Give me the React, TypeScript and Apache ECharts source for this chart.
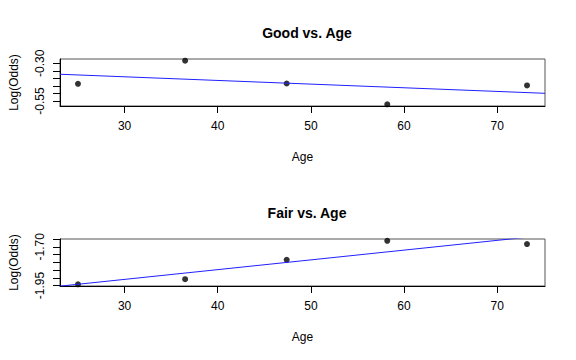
import React, { useEffect, useRef } from "react";
import * as echarts from "echarts";

const ages = [25, 36.5, 47.4, 58.2, 73.2];
const goodLogOdds = [-0.436, -0.283, -0.434, -0.572, -0.447];
const fairLogOdds = [-1.942, -1.909, -1.784, -1.661, -1.682];
const fitAges = [23.07, 75.13];
const goodFit = [-0.373, -0.499];
const fairFit = [-1.954, -1.626];
const xTicks = [30, 40, 50, 60, 70];
const goodYTicks = [-0.55, -0.5, -0.45, -0.4, -0.35, -0.3];
const goodYLabels = [-0.55, -0.3];
const fairYTicks = [-1.95, -1.9, -1.85, -1.8, -1.75, -1.7, -1.65];
const fairYLabels = [-1.95, -1.7];
const titles = ["Good vs. Age", "Fair vs. Age"];

const FONT = "Liberation Sans, Arial, Helvetica, sans-serif";

export default function App() {
  const ref = useRef<HTMLDivElement>(null);
  useEffect(() => {
    if (!ref.current) return;
    const chart = echarts.init(ref.current, null, { renderer: "svg" });
    const grids = [
      { left: 59, right: 31, top: 59, height: 47 },
      { left: 59, right: 31, top: 239, height: 47 },
    ];
    const yRanges = [
      [-0.583, -0.272],
      [-1.953, -1.6495],
    ];
    const yTickSets = [goodYTicks, fairYTicks];
    const yLabelSets = [goodYLabels, fairYLabels];
    const xAxis = grids.map((_, i) => ({
      type: "value",
      gridIndex: i,
      min: fitAges[0],
      max: fitAges[1],
      name: "Age",
      nameLocation: "middle",
      nameGap: 45,
      nameTextStyle: { fontFamily: FONT, fontSize: 12, color: "#000" },
      splitLine: { show: false },
      axisLine: { show: true, lineStyle: { color: "#000", width: 1 } },
      axisTick: { show: true, length: 7, customValues: xTicks, lineStyle: { color: "#000" } },
      axisLabel: {
        customValues: xTicks,
        margin: 14,
        fontFamily: FONT,
        fontSize: 12,
        color: "#000",
      },
    }));
    const yAxis = grids.map((_, i) => ({
      type: "value",
      gridIndex: i,
      min: yRanges[i][0],
      max: yRanges[i][1],
      name: "Log(Odds)",
      nameLocation: "middle",
      nameRotate: 90,
      nameGap: 40,
      nameTextStyle: { fontFamily: FONT, fontSize: 12, color: "#000" },
      splitLine: { show: false },
      axisLine: { show: true, lineStyle: { color: "#000", width: 1 } },
      axisTick: { show: true, length: 7, customValues: yTickSets[i], lineStyle: { color: "#000" } },
      axisLabel: {
        customValues: yLabelSets[i],
        rotate: 90,
        margin: 14,
        fontFamily: FONT,
        fontSize: 12,
        color: "#000",
        formatter: (v: number) => v.toFixed(2),
      },
    }));
    const series: any[] = [];
    const ySets = [goodLogOdds, fairLogOdds];
    const fitSets = [goodFit, fairFit];
    for (let i = 0; i < 2; i++) {
      series.push({
        type: "line",
        xAxisIndex: i,
        yAxisIndex: i,
        data: fitAges.map((a, j) => [a, fitSets[i][j]]),
        showSymbol: false,
        symbol: "none",
        clip: true,
        lineStyle: { color: "#2020ff", width: 1 },
        silent: true,
      });
      series.push({
        type: "scatter",
        xAxisIndex: i,
        yAxisIndex: i,
        data: ages.map((a, j) => [a, ySets[i][j]]),
        symbol: "circle",
        symbolSize: 6,
        itemStyle: { color: "#000" },
        clip: false,
      });
    }
    chart.setOption({
      animation: false,
      backgroundColor: "#fff",
      title: titles.map((t, i) => ({
        text: t,
        left: 302,
        textAlign: "center",
        top: i === 0 ? 21 : 201,
        textStyle: { fontFamily: FONT, fontSize: 14, fontWeight: "bold", color: "#000" },
      })),
      grid: grids.map((g) => ({ ...g, show: true, borderColor: "#555", borderWidth: 1, backgroundColor: "transparent" })),
      xAxis,
      yAxis,
      series,
    });
    return () => chart.dispose();
  }, []);
  return <div ref={ref} style={{ width: 576, height: 360, position: "absolute", left: 0, top: 0 }} />;
}
